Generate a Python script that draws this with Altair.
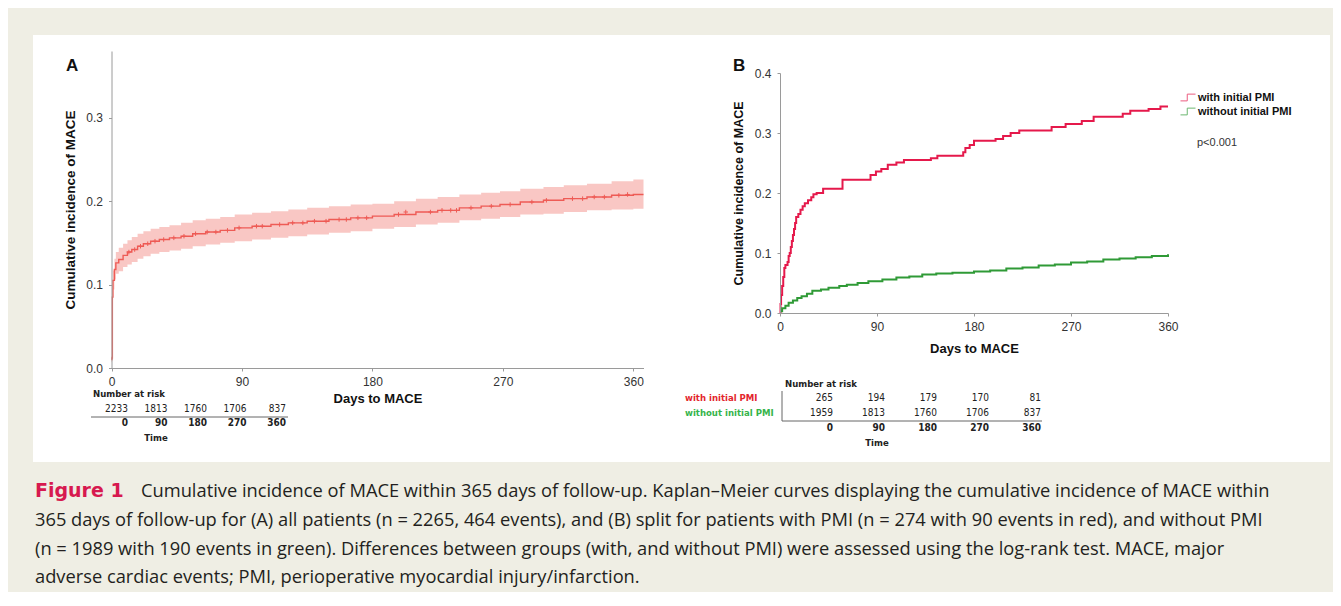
import altair as alt
import pandas as pd

# ---------------- data ----------------
# Panel A: all patients (step curve with 95% CI band)
days_a = [0, 0.3, 0.6, 1, 2, 3, 5, 8, 11, 14, 18, 22, 27, 33, 40, 48, 56, 65, 75, 85,
          97, 110, 122, 135, 150, 165, 180, 195, 210, 225, 240, 255, 268, 282, 298,
          312, 328, 345, 360, 367]
cum_a = [0.01, 0.012, 0.085, 0.105, 0.118, 0.126, 0.130, 0.135, 0.139, 0.142, 0.146, 0.149,
         0.152, 0.154, 0.156, 0.158, 0.161, 0.163, 0.165, 0.168, 0.170, 0.172, 0.174,
         0.176, 0.178, 0.180, 0.182, 0.184, 0.187, 0.189, 0.192, 0.194, 0.196, 0.199,
         0.201, 0.203, 0.205, 0.207, 0.208, 0.208]
lo_a = [0.007, 0.008, 0.075, 0.094, 0.106, 0.113, 0.116, 0.121, 0.124, 0.127, 0.131, 0.134,
        0.137, 0.139, 0.141, 0.143, 0.146, 0.148, 0.150, 0.152, 0.154, 0.156, 0.158,
        0.160, 0.162, 0.164, 0.167, 0.169, 0.172, 0.174, 0.177, 0.179, 0.181, 0.184,
        0.185, 0.187, 0.189, 0.190, 0.191, 0.191]
hi_a = [0.014, 0.017, 0.095, 0.117, 0.131, 0.139, 0.144, 0.149, 0.153, 0.157, 0.161, 0.164,
        0.167, 0.169, 0.171, 0.174, 0.177, 0.179, 0.181, 0.184, 0.186, 0.188, 0.190,
        0.192, 0.194, 0.196, 0.197, 0.200, 0.203, 0.205, 0.208, 0.210, 0.212, 0.215,
        0.217, 0.219, 0.221, 0.224, 0.226, 0.226]
censor_days_a = [12, 16, 20, 25, 30, 36, 43, 50, 58, 66, 72, 80, 88, 100, 104, 116, 125,
                 132, 140, 148, 157, 162, 170, 176, 198, 203, 220, 228, 234, 238, 248,
                 262, 275, 290, 300, 318, 325, 333, 340, 350, 356]
censor_cum_a = [0.139, 0.142, 0.146, 0.149, 0.152, 0.154, 0.156, 0.158, 0.161, 0.163,
                0.163, 0.165, 0.168, 0.170, 0.170, 0.172, 0.174, 0.174, 0.176, 0.176,
                0.178, 0.178, 0.180, 0.180, 0.184, 0.187, 0.187, 0.189, 0.189, 0.189,
                0.192, 0.194, 0.196, 0.199, 0.201, 0.203, 0.203, 0.205, 0.205, 0.207,
                0.208]

# Panel B: with / without initial PMI
group_names = ["with initial PMI", "without initial PMI"]
days_pmi = [0, 0.5, 1, 2, 3, 4, 5, 7, 8, 9, 10, 11, 12, 13, 14, 15, 17, 19, 21, 23, 26,
            29, 31, 34, 40, 58, 84, 89, 94, 100, 108, 115, 140, 146, 170, 172, 176, 180,
            200, 207, 214, 222, 252, 265, 280, 291, 318, 325, 342, 353, 360]
cum_pmi = [0, 0.015, 0.030, 0.045, 0.060, 0.075, 0.080, 0.085, 0.095, 0.100, 0.110,
           0.120, 0.130, 0.140, 0.150, 0.160, 0.165, 0.172, 0.178, 0.183, 0.188, 0.193,
           0.198, 0.200, 0.207, 0.222, 0.230, 0.236, 0.240, 0.247, 0.251, 0.255, 0.258,
           0.262, 0.268, 0.275, 0.280, 0.287, 0.290, 0.295, 0.300, 0.304, 0.310, 0.315,
           0.320, 0.327, 0.332, 0.337, 0.340, 0.344, 0.344]
days_nopmi = [0, 2, 5, 8, 12, 16, 20, 25, 30, 38, 45, 55, 62, 72, 82, 95, 108, 120, 132,
              145, 160, 180, 195, 210, 225, 240, 255, 270, 285, 300, 315, 330, 345, 360]
cum_nopmi = [0.003, 0.008, 0.012, 0.017, 0.021, 0.025, 0.028, 0.032, 0.037, 0.039,
             0.042, 0.045, 0.047, 0.050, 0.053, 0.056, 0.059, 0.061, 0.064, 0.066, 0.067,
             0.069, 0.071, 0.074, 0.076, 0.079, 0.081, 0.084, 0.086, 0.089, 0.091, 0.093,
             0.095, 0.098]

# Number at risk tables
risk_times = [0, 90, 180, 270, 360]
risk_all = [2233, 1813, 1760, 1706, 837]
risk_pmi = [265, 194, 179, 170, 81]
risk_nopmi = [1959, 1813, 1760, 1706, 837]

x_ticks = [0, 90, 180, 270, 360]
y_ticks_a = [0, 0.1, 0.2, 0.3]
y_ticks_b = [0, 0.1, 0.2, 0.3, 0.4]

caption_lines = [
    "Cumulative incidence of MACE within 365 days of follow-up. Kaplan\u2013Meier curves displaying the cumulative incidence of MACE within",
    "365 days of follow-up for (A) all patients (n = 2265, 464 events), and (B) split for patients with PMI (n = 274 with 90 events in red), and without PMI",
    "(n = 1989 with 190 events in green). Differences between groups (with, and without PMI) were assessed using the log-rank test. MACE, major",
    "adverse cardiac events; PMI, perioperative myocardial injury/infarction.",
]

# ---------------- styling / layout ----------------
W, H = 1325, 584
FONT = "Liberation Sans"
NARROW = "Liberation Sans Narrow, DejaVu Sans Condensed, Liberation Sans"
CAPFONT = "Open Sans"
BG = "#EFEEE4"
dummy = pd.DataFrame({"k": [0]})


def axis(orient, offset, values, title, fmt, title_pad, label_pad, title_size=12.5):
    return alt.Axis(orient=orient, offset=offset, values=values, title=title, format=fmt,
                    grid=False, domainColor="#9a9a9a", tickColor="#9a9a9a", tickSize=3,
                    labelFont=FONT, labelFontSize=12, labelColor="#333333",
                    labelPadding=label_pad, titleFont=FONT, titleFontSize=title_size,
                    titleFontWeight="bold", titleColor="#111111", titlePadding=title_pad,
                    labelFlush=False, labelOverlap=False, zindex=1)


def txt(s, x, y, size, weight="normal", color="#222222", align="left", font=FONT):
    return alt.Chart(dummy).mark_text(text=s, align=align, baseline="middle", fontSize=size,
                                      fontWeight=weight, color=color, font=font).encode(
        x=alt.value(x), y=alt.value(y))


def rule(x1, x2, y1, y2):
    return alt.Chart(dummy).mark_rule(color="#666666", strokeWidth=1).encode(
        x=alt.value(x1), x2=alt.value(x2), y=alt.value(y1), y2=alt.value(y2))


def risk_row(vals, y, rng, weight="normal"):
    df = pd.DataFrame({"t": risk_times, "n": vals})
    return alt.Chart(df).mark_text(align="right", baseline="middle", fontSize=10,
                                   font=NARROW, fontWeight=weight, color="#222222").encode(
        x=alt.X("t:Q", scale=alt.Scale(domain=[0, 360], range=rng), axis=None),
        y=alt.value(y), text="n:Q")


# background white box
bg = alt.Chart(dummy).mark_rect(color="white").encode(
    x=alt.value(25), x2=alt.value(1322), y=alt.value(27), y2=alt.value(454))

# ---------------- Panel A ----------------
dfA = pd.DataFrame({"day": days_a, "cum": cum_a, "lo": lo_a, "hi": hi_a})
dfAc = pd.DataFrame({"day": censor_days_a, "cum": censor_cum_a})
xscA = alt.Scale(domain=[0, 367], range=[103.5, 635.5], nice=False, zero=False)
yscA = alt.Scale(domain=[0, 0.38], range=[360, 43], nice=False, zero=False)
xaxA = axis("bottom", 360 - H, x_ticks, "Days to MACE", "d", 5, 5, 13)
yaxA = axis("left", -103.5, y_ticks_a, "Cumulative incidence of MACE", ".1f", 8, 6, 13.5)

bandA = alt.Chart(dfA).mark_area(interpolate="step-after", color="#F9C7C4").encode(
    x=alt.X("day:Q", scale=xscA, axis=xaxA),
    y=alt.Y("lo:Q", scale=yscA, axis=yaxA), y2="hi:Q")
lineA = alt.Chart(dfA).mark_line(interpolate="step-after", color="#EE5B55", strokeWidth=1.4).encode(
    x=alt.X("day:Q", scale=xscA, axis=xaxA),
    y=alt.Y("cum:Q", scale=yscA, axis=yaxA))
censA = alt.Chart(dfAc).mark_point(shape="M-1,0H1M0,-1V1", filled=False, size=20,
                                   color="#EE5B55", strokeWidth=1, opacity=1).encode(
    x=alt.X("day:Q", scale=xscA, axis=xaxA),
    y=alt.Y("cum:Q", scale=yscA, axis=yaxA))
panelA = alt.layer(bandA, lineA, censA)

# ---------------- Panel B ----------------
dfB = pd.concat([
    pd.DataFrame({"day": days_pmi, "cum": cum_pmi, "group": group_names[0]}),
    pd.DataFrame({"day": days_nopmi, "cum": cum_nopmi, "group": group_names[1]}),
])
xscB = alt.Scale(domain=[0, 360], range=[772, 1160], nice=False, zero=False)
yscB = alt.Scale(domain=[0, 0.4], range=[305, 65], nice=False, zero=False)
lineB = alt.Chart(dfB).mark_line(interpolate="step-after", strokeWidth=2).encode(
    x=alt.X("day:Q", scale=xscB,
            axis=axis("bottom", 305 - H, x_ticks, "Days to MACE", "d", 10, 5, 13)),
    y=alt.Y("cum:Q", scale=yscB,
            axis=axis("left", -772, y_ticks_b, "Cumulative incidence of MACE", ".1f", 9, 6, 12.5)),
    color=alt.Color("group:N", sort=group_names,
                    scale=alt.Scale(domain=group_names, range=["#E5194B", "#2F9A36"]),
                    legend=alt.Legend(orient="none", legendX=1172, legendY=81.5, title=None,
                                      symbolType="M-1,0.45H-0.1V-0.45H1", symbolSize=225,
                                      symbolStrokeWidth=1, symbolOpacity=0.7,
                                      symbolFillColor="transparent",
                                      labelFont=FONT, labelFontSize=11, labelFontWeight="bold",
                                      labelColor="#111111", labelOffset=2, padding=0,
                                      rowPadding=0)),
    order=alt.Order("day:Q"))

# ---------------- texts / tables ----------------
decor = [
    txt("A", 58, 58, 17, "bold", "#111111"),
    txt("B", 725, 58, 17, "bold", "#111111"),
    txt("p<0.001", 1189, 135, 11, "normal", "#333333"),
    # table A
    txt("Number at risk", 85, 386, 9.5, "bold", "#222222", font=NARROW),
    risk_row(risk_all, 401, [120, 278]),
    rule(83, 280, 409, 409),
    risk_row(risk_times, 415, [120, 278], "bold"),
    txt("Time", 148, 430, 9.5, "bold", "#222222", "center", NARROW),
    # table B
    txt("Number at risk", 777, 376, 9.5, "bold", "#222222", font=NARROW),
    txt(group_names[0], 677, 390, 9.5, "bold", "#E3262C", font=NARROW),
    txt(group_names[1], 677, 405, 9.5, "bold", "#35B44A", font=NARROW),
    risk_row(risk_pmi, 390, [825, 1033]),
    risk_row(risk_nopmi, 405, [825, 1033]),
    rule(774, 774, 383, 413),
    rule(774, 1034, 413, 413),
    risk_row(risk_times, 420, [825, 1033], "bold"),
    txt("Time", 869, 435, 9.5, "bold", "#222222", "center", NARROW),
    # caption
    txt("Figure 1", 27, 483, 19, "bold", "#D7194F", font="DejaVu Sans"),
    txt(caption_lines[0], 133, 484, 18.3, "normal", "#231F20", font=CAPFONT),
    txt(caption_lines[1], 27, 513, 18.3, "normal", "#231F20", font=CAPFONT),
    txt(caption_lines[2], 27, 542, 18.3, "normal", "#231F20", font=CAPFONT),
    txt(caption_lines[3], 27, 570, 18.3, "normal", "#231F20", font=CAPFONT),
]

chart = alt.layer(bg, panelA, lineB, *decor).resolve_scale(
    x="independent", y="independent"
).properties(
    width=W, height=H, padding=0, background=BG,
    autosize=alt.AutoSizeParams(type="none"),
).configure_view(stroke=None)

chart.save("out.html", embed_options={"renderer": "svg", "actions": False})
